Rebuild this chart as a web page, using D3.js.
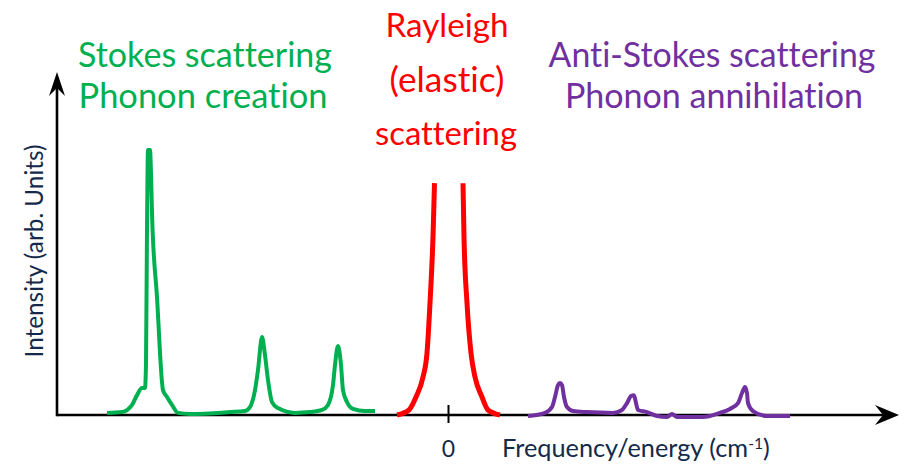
<!DOCTYPE html>
<html>
<head>
<meta charset="utf-8">
<script src="https://cdn.jsdelivr.net/npm/d3@7"></script>
<style>
  html, body { margin: 0; padding: 0; background: #ffffff; }
  svg { display: block; }
  text { font-family: Lato, "Open Sans", sans-serif; font-variant-ligatures: none; font-feature-settings: "liga" 0, "clig" 0; }
</style>
</head>
<body>
<svg id="chart" width="911" height="464"></svg>
<script>
// ---------------- DATA ----------------
// Frequency shift (arb. cm^-1, 0 = laser line) and intensity (arb. units)
const stokesFreq = [-341, -326, -316, -311, -306, -303, -302, -301, -300, -298, -297, -296, -291, -285, -281, -276, -270, -258,
                    -218, -203, -198, -193, -190, -186, -183, -180, -176, -170, -153,
                    -138, -126, -120, -115, -113, -110, -107, -105, -101, -95, -83, -73];
const stokesInt  = [0.8, 1.1, 3.8, 7.5, 10.2, 10.2, 19.6, 69.8, 100, 100, 91.3, 76.2, 44.5, 9.4, 6.8, 3.8, 0.8, 0.4,
                    1.1, 1.5, 3.0, 9.4, 17.0, 29.4, 22.6, 13.2, 4.9, 2.6, 0.8,
                    1.1, 1.9, 3.8, 11.3, 18.9, 26.0, 18.9, 9.4, 4.9, 2.3, 1.5, 1.5];

// Rayleigh line: peak runs off the top of the picture (null = not shown)
const rayleighFreq = [-51, -39, -32, -25, -21, -18, -15, -13.5, 0, 15, 16, 19, 23, 27, 34, 40, 52];
const rayleighInt  = [0, 1.9, 6.8, 14.3, 23.4, 42.3, 67.2, 87.5, null, 87.5, 67.2, 42.3, 23.4, 14.3, 6.8, 1.9, 0];

const antiStokesFreq = [80, 97, 104, 107, 110, 112, 114, 116, 119, 125, 139, 165, 174, 179, 183, 186, 188, 190, 199,
                        209, 219, 224, 229, 255, 272, 282, 290, 294, 297, 299, 300, 305, 319, 342];
const antiStokesInt  = [-0.4, 0.8, 3.0, 6.8, 11.3, 12.1, 11.3, 6.8, 3.0, 1.5, 1.1, 0.8, 1.9, 4.5, 7.2, 7.5, 4.5, 1.9, 1.1,
                        -0.4, -0.8, 0.4, -0.8, -0.8, 0.8, 2.3, 4.5, 8.3, 10.6, 8.3, 4.5, 1.5, -0.4, -0.4];

const xTicks = [0];
const xTickLabels = ["0"];
const xAxisLabel = "Frequency/energy (cm";
const xAxisSup = "-1";
const yAxisLabel = "Intensity (arb. Units)";
const stokesLabel = ["Stokes scattering", "Phonon creation"];
const rayleighLabel = ["Rayleigh", "(elastic)", "scattering"];
const antiStokesLabel = ["Anti-Stokes scattering", "Phonon annihilation"];

// ---------------- CHART ----------------
const svg = d3.select("#chart");
const textColor = "#142a4a";
const green = "#00b050", red = "#ff0000", purple = "#7030a0";

const x = d3.scaleLinear().domain([-391, 449]).range([57, 897]);
const y = d3.scaleLinear().domain([0, 100]).range([415, 150]);

// axes
const axisG = svg.append("g");
axisG.append("line").attr("x1", 57).attr("y1", 415).attr("x2", 885).attr("y2", 415)
  .attr("stroke", "#000").attr("stroke-width", 2.6);
axisG.append("line").attr("x1", 57).attr("y1", 416.3).attr("x2", 57).attr("y2", 85)
  .attr("stroke", "#000").attr("stroke-width", 2.6);
axisG.append("path").attr("d", "M899,415 L875,405 L883,415 L875,425 Z").attr("fill", "#000");
axisG.append("path").attr("d", "M57,72 L49,96 L57,88 L65,96 Z").attr("fill", "#000");

const xAxis = d3.axisBottom(x).tickValues(xTicks).tickFormat((d, i) => xTickLabels[i]).tickSize(8);
const xg = svg.append("g").attr("transform", "translate(0,415)").call(xAxis);
xg.select(".domain").remove();
xg.attr("font-size", null).attr("font-family", null);
xg.selectAll(".tick line").attr("y1", -10).attr("y2", 8).attr("stroke", "#000").attr("stroke-width", 2);
xg.selectAll(".tick text").attr("y", 42).attr("dy", null).attr("fill", textColor)
  .style("font-size", "23px");

// curves
const line = d3.line()
  .defined(d => d[1] !== null)
  .x(d => x(d[0])).y(d => y(d[1]))
  .curve(d3.curveMonotoneX);

function drawSeries(fr, it, color, w) {
  const pts = fr.map((f, i) => [f, it[i]]);
  svg.append("path").datum(pts).attr("d", line)
    .attr("fill", "none").attr("stroke", color).attr("stroke-width", w)
    .attr("stroke-linejoin", "round").attr("stroke-linecap", "butt");
}
drawSeries(stokesFreq, stokesInt, green, 4);
drawSeries(rayleighFreq, rayleighInt, red, 5);
drawSeries(antiStokesFreq, antiStokesInt, purple, 4);

// text helpers: fit to a target width
function fitText(sel, targetW, baseSize) {
  sel.style("font-size", baseSize + "px");
  const w = sel.node().getComputedTextLength();
  const s = baseSize * targetW / w;
  sel.style("font-size", s.toFixed(2) + "px");
  return s;
}
function label(txt, cx, by, w, color, size) {
  const t = svg.append("text").attr("x", cx).attr("y", by).attr("text-anchor", "middle")
    .attr("fill", color).text(txt);
  fitText(t, w, size);
  return t;
}

label(stokesLabel[0], 205, 67, 254, green, 30);
label(stokesLabel[1], 203, 108, 249, green, 30);
label(rayleighLabel[0], 447, 37, 123, red, 30);
label(rayleighLabel[1], 447, 92, 115, red, 30);
label(rayleighLabel[2], 446, 145, 142, red, 30);
label(antiStokesLabel[0], 712, 67, 327, purple, 30);
label(antiStokesLabel[1], 714, 108, 298, purple, 30);

// y axis label
const yl = svg.append("text").attr("transform", "translate(43,251) rotate(-90)")
  .attr("text-anchor", "middle").attr("fill", textColor).text(yAxisLabel);
fitText(yl, 213, 20);

// x axis label with superscript
const xl = svg.append("text").attr("x", 502).attr("y", 457).attr("fill", textColor)
  .style("font-size", "20px");
xl.append("tspan").text(xAxisLabel);
xl.append("tspan").text(xAxisSup).attr("dy", -8).style("font-size", "0.62em");
xl.append("tspan").text(")").attr("dy", 8);
fitText(xl, 268, 20);
</script>
</body>
</html>
